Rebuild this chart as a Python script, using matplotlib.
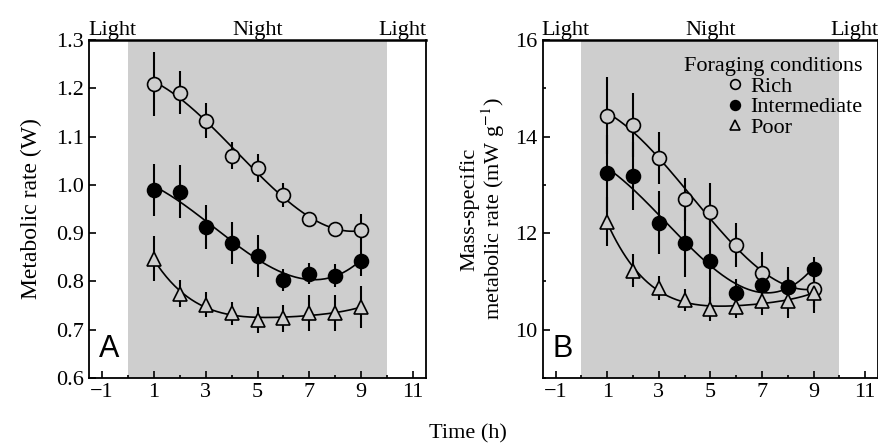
import matplotlib
matplotlib.use("Agg")
import matplotlib.pyplot as plt
import numpy as np
from matplotlib.ticker import MultipleLocator

plt.rcParams["font.family"] = ["Liberation Serif", "DejaVu Serif"]
plt.rcParams["mathtext.fontset"] = "stix"

hours = np.arange(1, 10)

# panel A: metabolic rate (W)
a_rich = [1.209, 1.191, 1.133, 1.060, 1.035, 0.979, 0.930, 0.908, 0.906]
a_rich_err = [0.067, 0.044, 0.036, 0.028, 0.029, 0.024, 0.010, 0.010, 0.034]
a_mid = [0.989, 0.986, 0.913, 0.880, 0.853, 0.803, 0.816, 0.812, 0.842]
a_mid_err = [0.054, 0.055, 0.045, 0.044, 0.043, 0.022, 0.022, 0.024, 0.030]
a_poor = [0.847, 0.774, 0.752, 0.734, 0.720, 0.724, 0.734, 0.734, 0.747]
a_poor_err = [0.047, 0.028, 0.026, 0.024, 0.027, 0.028, 0.037, 0.037, 0.043]

# panel B: mass-specific metabolic rate (mW g-1)
b_rich = [14.43, 14.24, 13.56, 12.70, 12.44, 11.75, 11.18, 10.89, 10.85]
b_rich_err = [0.80, 0.66, 0.54, 0.44, 0.59, 0.45, 0.43, 0.40, 0.50]
b_mid = [13.24, 13.18, 12.22, 11.79, 11.42, 10.75, 10.92, 10.89, 11.25]
b_mid_err = [0.80, 0.70, 0.65, 0.70, 0.90, 0.30, 0.30, 0.35, 0.25]
b_poor = [12.24, 11.22, 10.87, 10.62, 10.42, 10.47, 10.60, 10.60, 10.76]
b_poor_err = [0.50, 0.34, 0.25, 0.23, 0.25, 0.23, 0.30, 0.35, 0.30]

gray = "#cecece"
fs = 16
fig = plt.figure(figsize=(8.79, 4.46), dpi=100)
axA = fig.add_axes([0.1013, 0.1525, 0.3834, 0.7578])
axB = fig.add_axes([0.6174, 0.1525, 0.3815, 0.7578])


def panel(ax, series, ylim, label):
    ax.axvspan(0, 10, color=gray, zorder=0, lw=0)
    xs = np.linspace(1, 9, 200)
    for y, err, style, name, deg in series:
        fit = np.polyfit(hours, y, deg)
        ax.plot(xs, np.polyval(fit, xs), color="black", lw=1.2, zorder=2)
        ax.errorbar(hours, y, yerr=err, fmt="none", ecolor="black",
                    elinewidth=1.5, capsize=0, zorder=3)
        ax.plot(hours, y, ls="none", label=name, zorder=4, **style)
    ax.set_xlim(-1.5, 11.5)
    ax.set_ylim(*ylim)
    ax.set_xticks(np.arange(-1, 12, 2))
    ax.xaxis.set_minor_locator(MultipleLocator(1))
    ax.tick_params(which="both", direction="in", top=False, right=False,
                   labelsize=fs, width=1.2)
    ax.tick_params(which="major", length=5)
    ax.tick_params(which="minor", length=2.5)
    for s in ax.spines.values():
        s.set_linewidth(1.3)
    ax.spines["top"].set_linewidth(1.8)
    ax.text(0.03, 0.04, label, transform=ax.transAxes, fontsize=22,
            family="Liberation Sans", ha="left", va="bottom")
    ax.text(-0.6, ylim[1], "Light", fontsize=fs, ha="center", va="bottom")
    ax.text(5, ylim[1], "Night", fontsize=fs, ha="center", va="bottom")
    ax.text(10.6, ylim[1], "Light", fontsize=fs, ha="center", va="bottom")


open_c = dict(marker="o", ms=10, mfc=gray, mec="black", mew=1.2)
fill_c = dict(marker="o", ms=10, mfc="black", mec="black", mew=1.2)
open_t = dict(marker="^", ms=10, mfc=gray, mec="black", mew=1.2)

panel(axA, [(a_rich, a_rich_err, open_c, "Rich", 3),
            (a_mid, a_mid_err, fill_c, "Intermediate", 3),
            (a_poor, a_poor_err, open_t, "Poor", 4)], (0.6, 1.3), "A")
axA.yaxis.set_major_locator(MultipleLocator(0.1))
axA.yaxis.set_major_formatter(matplotlib.ticker.FormatStrFormatter("%.1f"))
axA.set_ylabel("Metabolic rate (W)", fontsize=fs + 1, labelpad=10)

panel(axB, [(b_rich, b_rich_err, open_c, "Rich", 3),
            (b_mid, b_mid_err, fill_c, "Intermediate", 3),
            (b_poor, b_poor_err, open_t, "Poor", 4)], (9, 16), "B")
axB.yaxis.set_major_locator(MultipleLocator(2))
axB.yaxis.set_minor_locator(MultipleLocator(1))
axB.set_ylabel("Mass-specific\nmetabolic rate (mW g$^{-1}$)", fontsize=fs,
               labelpad=6, linespacing=1.0)

leg = axB.legend(title="Foraging conditions", loc="upper right",
                 bbox_to_anchor=(1.0, 0.995), frameon=False, fontsize=fs,
                 title_fontsize=fs, alignment="right", markerscale=0.7,
                 handlelength=0.7, handletextpad=0.35, labelspacing=0.0,
                 borderpad=0.2)

fig.text(0.532, 0.005, "Time (h)", fontsize=fs, ha="center", va="bottom")

fig.savefig("out.png", dpi=100)
